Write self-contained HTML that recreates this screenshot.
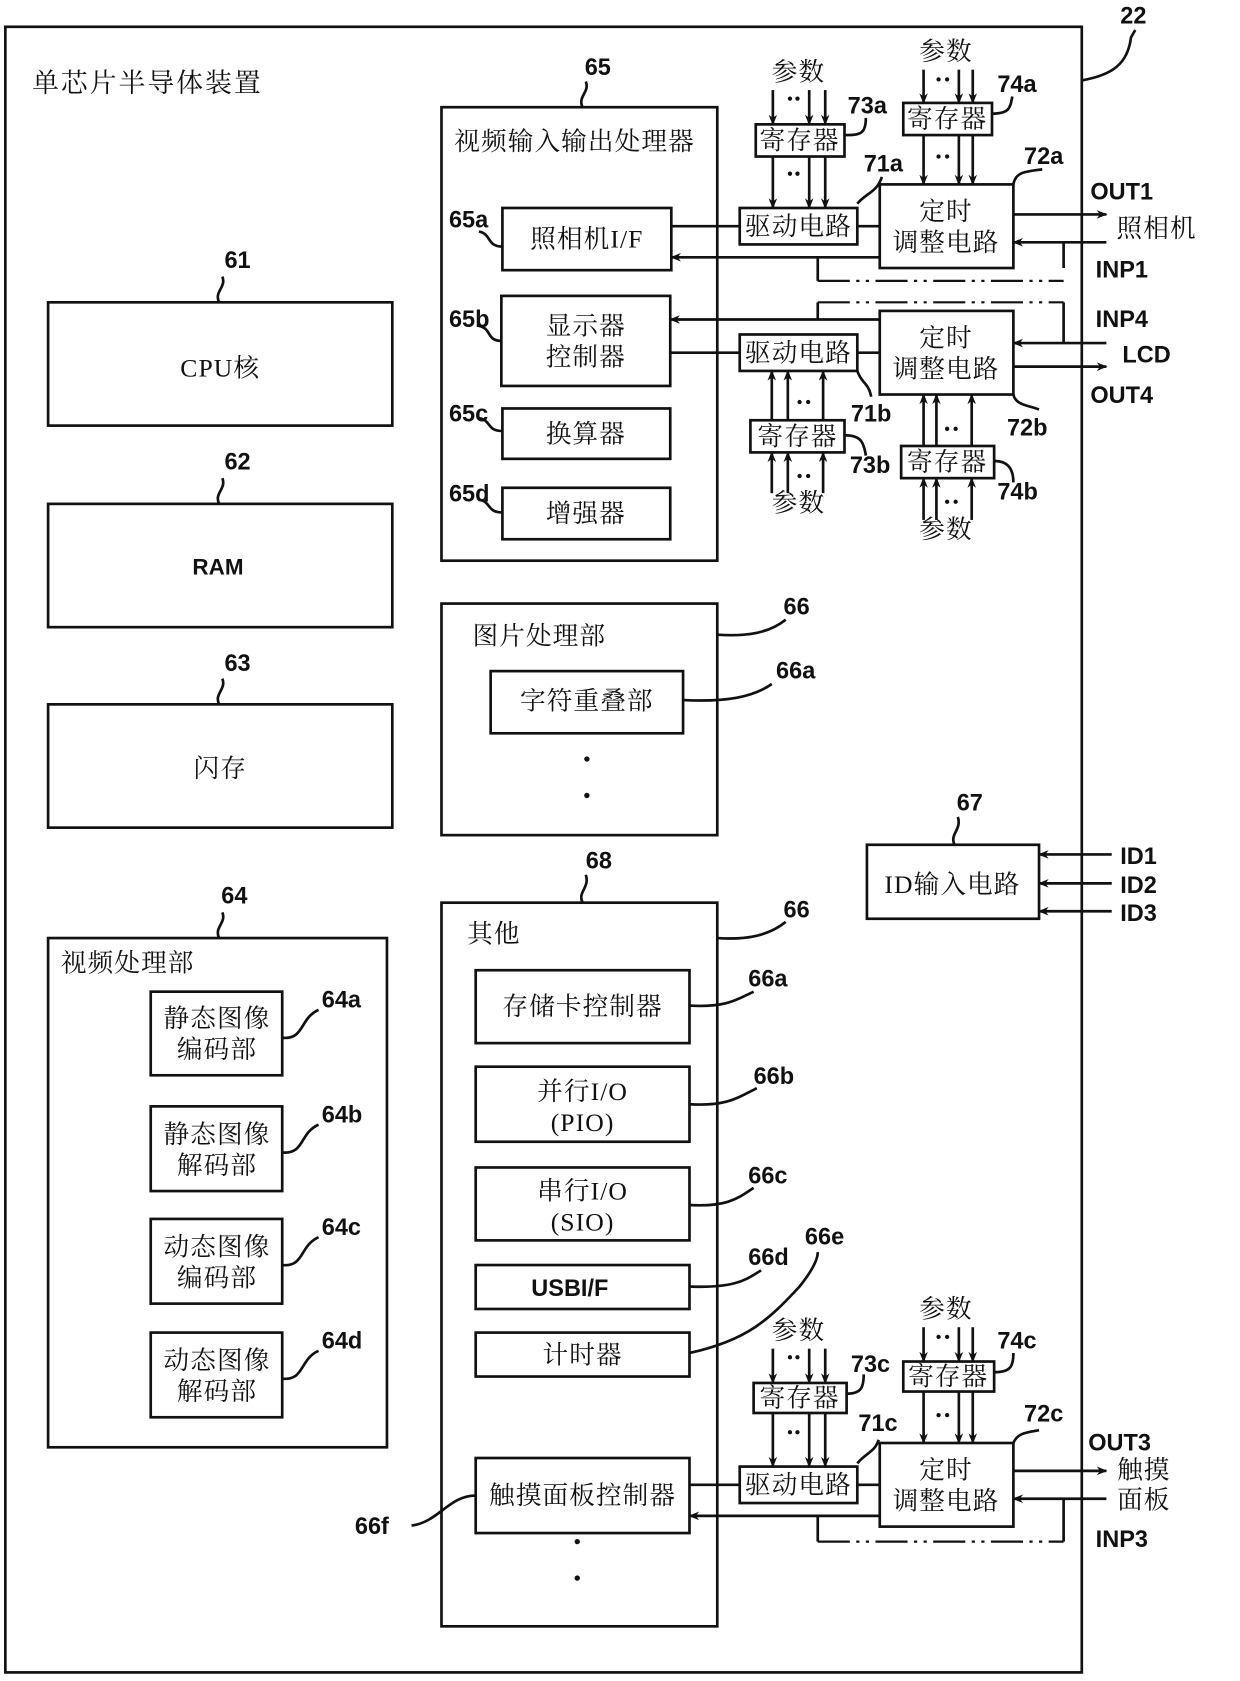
<!DOCTYPE html>
<html><head><meta charset="utf-8"><style>
html,body{margin:0;padding:0;background:#fff;}
svg{display:block;}
.z{font-family:"Liberation Serif","Noto Serif CJK SC",serif;font-size:24px;fill:#111;letter-spacing:1px;}
.l{font-family:"Liberation Sans",sans-serif;font-weight:bold;font-size:22px;fill:#111;}
</style></head><body>
<svg width="1240" height="1681" viewBox="0 0 1160 1568" preserveAspectRatio="none" xmlns="http://www.w3.org/2000/svg">
<defs><marker id="a" markerWidth="10" markerHeight="8" refX="9" refY="4" orient="auto" markerUnits="userSpaceOnUse"><path d="M0,0 L10,4 L0,8 L3,4z" fill="#111"/></marker></defs>
<g fill="none" stroke="#111" stroke-width="2.5">
<rect x="5" y="25" width="1007" height="1535"/>
<path d="M1012,75 C1040,70 1055,60 1058,35 L1062,28"/>
<rect x="45" y="282" width="322" height="115"/>
<rect x="45" y="470" width="322" height="115"/>
<rect x="45" y="657" width="322" height="115"/>
<rect x="45" y="875" width="317" height="475"/>
<path d="M205,282 C200,272 212,268 208,258 M205,470 C200,460 212,456 208,446 M205,657 C200,647 212,643 208,633 M205,875 C200,865 212,861 208,851"/>
<rect x="141" y="925" width="123" height="78"/><rect x="141" y="1032" width="123" height="79"/>
<rect x="141" y="1137" width="123" height="79"/><rect x="141" y="1243" width="123" height="79"/>
<path d="M264,968 C285,970 280,950 298,942 M264,1075 C285,1077 280,1057 298,1049 M264,1180 C285,1182 280,1162 298,1154 M264,1286 C285,1288 280,1268 298,1260"/>
<rect x="413" y="100" width="258" height="423"/>
<path d="M545,100 C540,90 552,86 548,76"/>
<rect x="470" y="194" width="158" height="58"/><rect x="469" y="276" width="158" height="84"/>
<rect x="470" y="381" width="157" height="47"/><rect x="470" y="455" width="157" height="48"/>
<path d="M470,230 C455,230 460,218 448,216 M469,318 C455,318 460,306 448,304 M470,402 C455,402 460,392 448,390 M470,478 C455,478 460,468 448,466"/>
<rect x="413" y="563" width="258" height="216"/>
<rect x="459" y="626" width="180" height="58"/>
<path d="M671,592 C700,594 720,590 735,578 M639,653 C680,655 705,650 722,638"/>
<rect x="413" y="842" width="258" height="675"/>
<path d="M545,842 C540,832 552,828 548,816 M671,875 C700,877 720,872 735,860"/>
<rect x="445" y="905" width="200" height="68"/><rect x="445" y="995" width="200" height="70"/>
<rect x="445" y="1089" width="200" height="68"/><rect x="445" y="1180" width="200" height="41"/>
<rect x="445" y="1243" width="200" height="41"/><rect x="445" y="1360" width="200" height="70"/>
<path d="M645,938 C680,940 690,932 705,925 M645,1030 C680,1032 690,1024 708,1015 M645,1124 C680,1126 690,1118 705,1108 M645,1200 C690,1202 700,1192 712,1185 M645,1262 C700,1250 720,1230 748,1200 C760,1185 765,1175 765,1168 M445,1395 C420,1395 410,1420 385,1423"/>
<rect x="811" y="788" width="161" height="69"/>
<path d="M893,788 C888,778 900,774 896,762"/>
<rect x="707" y="116" width="83" height="30"/><rect x="845" y="96" width="83" height="30"/>
<rect x="692" y="194" width="110" height="34"/><rect x="823" y="172" width="125" height="78"/>
<rect x="692" y="312" width="110" height="34"/><rect x="823" y="290" width="125" height="78"/>
<rect x="702" y="392" width="88" height="30"/><rect x="843" y="416" width="87" height="30"/>
<path d="M790,126 C805,126 810,125 810,110 M928,106 C945,106 945,100 947,90 M802,190 C810,180 820,180 825,165 M948,172 C950,160 960,160 975,158 M790,406 C805,406 808,412 810,425 M930,430 C945,430 948,440 948,450 M948,368 C950,378 962,378 972,382 M802,346 C806,358 812,356 815,370"/>
<path d="M628,211 H692 M802,211 H823 M627,329 H692 M802,329 H823"/>
<path d="M995,226 V250 M765,240 V262 M765,282 V298 M995,282 V320"/>
<path d="M765,262 H995 M765,282 H995" stroke-dasharray="30,6,3,6,3,6" stroke-width="2"/>
<rect x="705" y="1290" width="87" height="28"/><rect x="845" y="1270" width="85" height="28"/>
<rect x="692" y="1368" width="110" height="34"/><rect x="823" y="1346" width="125" height="78"/>
<path d="M792,1300 C805,1300 808,1295 808,1282 M930,1280 C945,1280 948,1275 948,1262 M802,1365 C810,1355 818,1355 822,1343 M948,1346 C952,1336 962,1336 972,1334"/>
<path d="M645,1385 H692 M802,1385 H823 M765,1414 V1438 M995,1398 V1438"/>
<path d="M765,1438 H995" stroke-dasharray="30,6,3,6,3,6" stroke-width="2"/>
</g>
<g stroke="#111" stroke-width="2.5" fill="none" marker-end="url(#a)">
<path d="M723,84 V116"/><path d="M757,84 V116"/><path d="M772,84 V116"/>
<path d="M723,146 V194"/><path d="M757,146 V194"/><path d="M772,146 V194"/>
<path d="M864,65 V96"/><path d="M897,65 V96"/><path d="M910,65 V96"/>
<path d="M864,126 V172"/><path d="M897,126 V172"/><path d="M910,126 V172"/>
<path d="M823,240 H628"/><path d="M948,200 H1035"/><path d="M1035,226 H948"/>
<path d="M823,298 H627"/><path d="M1035,320 H948"/><path d="M948,342 H1035"/>
<path d="M722,392 V346"/><path d="M737,392 V346"/><path d="M770,392 V346"/>
<path d="M722,460 V422"/><path d="M737,460 V422"/><path d="M770,460 V422"/>
<path d="M864,416 V368"/><path d="M876,416 V368"/><path d="M909,416 V368"/>
<path d="M864,485 V446"/><path d="M876,485 V446"/><path d="M909,485 V446"/>
<path d="M1040,797 H972"/><path d="M1040,824 H972"/><path d="M1040,850 H972"/>
<path d="M723,1258 V1290"/><path d="M757,1258 V1290"/><path d="M772,1258 V1290"/>
<path d="M723,1318 V1368"/><path d="M757,1318 V1368"/><path d="M772,1318 V1368"/>
<path d="M864,1238 V1270"/><path d="M897,1238 V1270"/><path d="M910,1238 V1270"/>
<path d="M864,1298 V1346"/><path d="M897,1298 V1346"/><path d="M910,1298 V1346"/>
<path d="M823,1414 H645"/><path d="M948,1372 H1035"/><path d="M1035,1398 H948"/>
</g>
<g fill="#111">
<circle cx="739" cy="92" r="2"/><circle cx="746" cy="92" r="2"/><circle cx="739" cy="162" r="2"/><circle cx="746" cy="162" r="2"/>
<circle cx="878" cy="74" r="2"/><circle cx="886" cy="74" r="2"/><circle cx="878" cy="146" r="2"/><circle cx="886" cy="146" r="2"/>
<circle cx="748" cy="375" r="2"/><circle cx="756" cy="375" r="2"/><circle cx="748" cy="444" r="2"/><circle cx="756" cy="444" r="2"/>
<circle cx="886" cy="400" r="2"/><circle cx="894" cy="400" r="2"/><circle cx="886" cy="468" r="2"/><circle cx="894" cy="468" r="2"/>
<circle cx="739" cy="1266" r="2"/><circle cx="746" cy="1266" r="2"/><circle cx="739" cy="1336" r="2"/><circle cx="746" cy="1336" r="2"/>
<circle cx="878" cy="1247" r="2"/><circle cx="886" cy="1247" r="2"/><circle cx="878" cy="1320" r="2"/><circle cx="886" cy="1320" r="2"/>
<circle cx="549" cy="708" r="2.5"/><circle cx="549" cy="742" r="2.5"/><circle cx="540" cy="1438" r="2.5"/><circle cx="540" cy="1472" r="2.5"/>
</g>
<g class="z">
<text x="30" y="86" font-size="25" letter-spacing="2">单芯片半导体装置</text>
<text x="206" y="351" text-anchor="middle">CPU核</text>
<text x="206" y="725" text-anchor="middle">闪存</text>
<text x="57" y="906">视频处理部</text>
<text x="203" y="958" text-anchor="middle">静态图像</text><text x="203" y="987" text-anchor="middle">编码部</text>
<text x="203" y="1066" text-anchor="middle">静态图像</text><text x="203" y="1095" text-anchor="middle">解码部</text>
<text x="203" y="1171" text-anchor="middle">动态图像</text><text x="203" y="1200" text-anchor="middle">编码部</text>
<text x="203" y="1277" text-anchor="middle">动态图像</text><text x="203" y="1306" text-anchor="middle">解码部</text>
<text x="425" y="140">视频输入输出处理器</text>
<text x="549" y="231" text-anchor="middle">照相机I/F</text>
<text x="548" y="312" text-anchor="middle">显示器</text><text x="548" y="341" text-anchor="middle">控制器</text>
<text x="548" y="413" text-anchor="middle">换算器</text><text x="548" y="487" text-anchor="middle">增强器</text>
<text x="442" y="601">图片处理部</text>
<text x="549" y="662" text-anchor="middle">字符重叠部</text>
<text x="437" y="879">其他</text>
<text x="545" y="947" text-anchor="middle">存储卡控制器</text>
<text x="545" y="1026" text-anchor="middle">并行I/O</text><text x="545" y="1055" text-anchor="middle">(PIO)</text>
<text x="545" y="1119" text-anchor="middle">串行I/O</text><text x="545" y="1148" text-anchor="middle">(SIO)</text>
<text x="545" y="1272" text-anchor="middle">计时器</text>
<text x="545" y="1403" text-anchor="middle">触摸面板控制器</text>
<text x="891" y="833" text-anchor="middle">ID输入电路</text>
<text x="747" y="75" text-anchor="middle">参数</text><text x="885" y="56" text-anchor="middle">参数</text>
<text x="748" y="139" text-anchor="middle">寄存器</text><text x="886" y="119" text-anchor="middle">寄存器</text>
<text x="747" y="219" text-anchor="middle">驱动电路</text><text x="747" y="337" text-anchor="middle">驱动电路</text>
<text x="885" y="205" text-anchor="middle">定时</text><text x="885" y="234" text-anchor="middle">调整电路</text>
<text x="885" y="323" text-anchor="middle">定时</text><text x="885" y="352" text-anchor="middle">调整电路</text>
<text x="746" y="415" text-anchor="middle">寄存器</text><text x="886" y="439" text-anchor="middle">寄存器</text>
<text x="747" y="477" text-anchor="middle">参数</text><text x="885" y="502" text-anchor="middle">参数</text>
<text x="1082" y="221" text-anchor="middle">照相机</text>
<text x="747" y="1249" text-anchor="middle">参数</text><text x="885" y="1229" text-anchor="middle">参数</text>
<text x="748" y="1312" text-anchor="middle">寄存器</text><text x="887" y="1292" text-anchor="middle">寄存器</text>
<text x="747" y="1393" text-anchor="middle">驱动电路</text>
<text x="885" y="1379" text-anchor="middle">定时</text><text x="885" y="1408" text-anchor="middle">调整电路</text>
<text x="1070" y="1379" text-anchor="middle">触摸</text><text x="1070" y="1407" text-anchor="middle">面板</text>
</g>
<g class="l">
<text x="1048" y="22">22</text>
<text x="210" y="250">61</text><text x="210" y="438">62</text><text x="210" y="626">63</text><text x="207" y="843">64</text>
<text x="180" y="536" font-size="21">RAM</text>
<text x="301" y="940">64a</text><text x="301" y="1047">64b</text><text x="301" y="1152">64c</text><text x="301" y="1258">64d</text>
<text x="547" y="70">65</text>
<text x="420" y="212">65a</text><text x="420" y="305">65b</text><text x="420" y="393">65c</text><text x="420" y="468">65d</text>
<text x="733" y="573">66</text><text x="726" y="633">66a</text>
<text x="548" y="810">68</text><text x="733" y="856">66</text>
<text x="700" y="920">66a</text><text x="705" y="1011">66b</text><text x="700" y="1104">66c</text><text x="700" y="1180">66d</text><text x="753" y="1161">66e</text>
<text x="332" y="1431">66f</text>
<text x="895" y="756">67</text>
<text x="497" y="1209">USBI/F</text>
<text x="1048" y="806">ID1</text><text x="1048" y="833">ID2</text><text x="1048" y="859">ID3</text>
<text x="793" y="106">73a</text><text x="933" y="86">74a</text><text x="808" y="160">71a</text><text x="958" y="153">72a</text>
<text x="796" y="393">71b</text><text x="942" y="406">72b</text><text x="795" y="441">73b</text><text x="933" y="466">74b</text>
<text x="1020" y="186">OUT1</text><text x="1025" y="259">INP1</text><text x="1025" y="305">INP4</text>
<text x="1050" y="338">LCD</text><text x="1020" y="376">OUT4</text>
<text x="796" y="1280">73c</text><text x="933" y="1258">74c</text><text x="803" y="1335">71c</text><text x="958" y="1326">72c</text>
<text x="1018" y="1353">OUT3</text><text x="1025" y="1443">INP3</text>
</g>
</svg>
</body></html>
